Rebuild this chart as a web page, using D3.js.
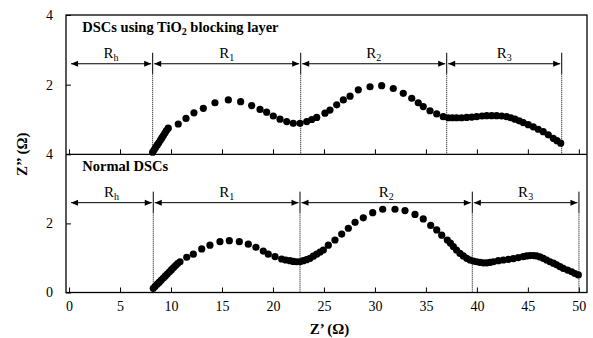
<!DOCTYPE html>
<html>
<head>
<meta charset="utf-8">
<script src="https://cdn.jsdelivr.net/npm/d3@7"></script>
<style>
  body { margin: 0; background: #fff; }
  svg text { font-family: "Liberation Serif", "Times New Roman", serif; fill: #000; }
</style>
</head>
<body>
<svg id="chart" width="593" height="338"></svg>
<script>
// Nyquist data (Z' and Z'' in ohm)
const blockingZre = [8.20, 8.35, 8.50, 8.65, 8.80, 8.95, 9.10, 9.25, 9.40, 9.55, 9.73, 10.71, 11.47, 12.25, 13.17,
  14.31, 15.62, 16.83, 17.91, 18.73, 19.38, 20.03, 20.69, 21.35, 21.99, 22.65, 23.31, 23.80, 24.29, 25.10, 25.59,
  26.25, 26.90, 27.56, 28.37, 29.52, 30.66, 31.80, 32.78, 33.61, 34.25, 34.74, 35.40, 36.06, 36.70, 37.20, 37.60,
  38.02, 38.50, 39.00, 39.50, 39.98, 40.50, 40.96, 41.45, 41.94, 42.43, 42.92, 43.33, 43.74, 44.15, 44.55, 45.04,
  45.53, 46.02, 46.51, 47.00, 47.49, 47.85, 48.22];
const blockingZim = [0.06, 0.13, 0.20, 0.27, 0.33, 0.40, 0.47, 0.54, 0.61, 0.68, 0.75, 0.87, 1.03, 1.19, 1.32,
  1.48, 1.56, 1.51, 1.40, 1.29, 1.21, 1.10, 1.01, 0.94, 0.89, 0.89, 0.94, 1.00, 1.06, 1.18, 1.27,
  1.42, 1.56, 1.67, 1.85, 1.94, 1.97, 1.89, 1.75, 1.61, 1.48, 1.37, 1.25, 1.16, 1.08, 1.05, 1.05,
  1.05, 1.05, 1.06, 1.07, 1.08, 1.10, 1.11, 1.11, 1.11, 1.10, 1.08, 1.05, 1.01, 0.96, 0.91, 0.85,
  0.79, 0.72, 0.65, 0.56, 0.46, 0.39, 0.32];

const normalZre = [8.26, 8.45, 8.65, 8.85, 9.05, 9.25, 9.45, 9.65, 9.85, 10.05, 10.25, 10.45, 10.65, 10.88, 11.54,
  12.19, 13.01, 13.82, 14.80, 15.72, 16.70, 17.58, 18.33, 19.05, 19.54, 20.20, 20.85, 21.25, 21.67, 22.00, 22.33,
  22.65, 22.97, 23.30, 23.63, 23.96, 24.29, 24.62, 24.94, 25.43, 26.08, 26.74, 27.39, 28.05, 28.86, 29.78, 30.76,
  31.97, 32.95, 33.93, 34.74, 35.47, 36.06, 36.55, 37.10, 37.40, 37.69, 38.00, 38.34, 38.67, 39.00, 39.33, 39.65,
  39.98, 40.30, 40.63, 40.96, 41.29, 41.61, 42.10, 42.59, 43.08, 43.57, 44.06, 44.55, 44.88, 45.21, 45.54, 45.86,
  46.19, 46.51, 46.84, 47.17, 47.50, 47.82, 48.15, 48.47, 48.90, 49.30, 49.62, 49.95];
const normalZim = [0.12, 0.18, 0.24, 0.30, 0.36, 0.42, 0.48, 0.54, 0.60, 0.66, 0.72, 0.78, 0.84, 0.89, 1.02,
  1.11, 1.26, 1.37, 1.47, 1.50, 1.47, 1.40, 1.31, 1.20, 1.11, 1.04, 0.97, 0.94, 0.92, 0.90, 0.89,
  0.89, 0.92, 0.95, 0.99, 1.05, 1.11, 1.17, 1.23, 1.37, 1.52, 1.69, 1.86, 2.03, 2.16, 2.31, 2.41,
  2.41, 2.37, 2.26, 2.13, 1.94, 1.81, 1.66, 1.52, 1.43, 1.33, 1.23, 1.13, 1.06, 0.99, 0.94, 0.91,
  0.89, 0.87, 0.86, 0.86, 0.87, 0.89, 0.92, 0.94, 0.96, 0.98, 1.01, 1.04, 1.06, 1.07, 1.07, 1.06,
  1.03, 0.99, 0.94, 0.89, 0.85, 0.80, 0.75, 0.70, 0.65, 0.60, 0.55, 0.51];

// resistance section boundaries (Z')
const blockingBounds = [0, 8.20, 22.72, 37.04, 48.32];
const normalBounds = [0, 8.26, 22.65, 39.55, 50.01];
const sectionSubs = ["h", "1", "2", "3"];

const panelTitles = ["DSCs using TiO", "Normal DSCs"];
const xTicks = [0, 5, 10, 15, 20, 25, 30, 35, 40, 45, 50];
const topYTicks = [2, 4];
const bottomYTicks = [0, 2, 4];
const arrowLevel = 2.6;

const svg = d3.select("#chart");

const mLeft = 66, mRight = 587, mTop = 15, mMid = 154.3, mBottom = 292.5;

const x = d3.scaleLinear().domain([-0.3, 50.8]).range([mLeft, mRight]);
const yTop = d3.scaleLinear().domain([0, 4]).range([mMid, mTop]);
const yBot = d3.scaleLinear().domain([0, 4]).range([mBottom, mMid]);

function styleAxis(g) {
  g.select(".domain").remove();
  g.attr("font-family", null).attr("font-size", null);
  g.selectAll("text").attr("font-size", 14);
  g.selectAll(".tick line").attr("stroke", "#000").attr("stroke-width", 1);
}

// x axes (ticks point inward)
svg.append("g")
  .attr("transform", `translate(0,${mMid})`)
  .call(d3.axisBottom(x).tickValues(xTicks).tickSize(-5).tickFormat(""))
  .call(styleAxis);

svg.append("g")
  .attr("transform", `translate(0,${mBottom})`)
  .call(d3.axisBottom(x).tickValues(xTicks).tickSize(-5).tickPadding(9).tickFormat(d3.format("d")))
  .call(styleAxis);

// y axes
svg.append("g")
  .attr("transform", `translate(${mLeft},0)`)
  .call(d3.axisLeft(yTop).tickValues(topYTicks).tickSize(-5).tickPadding(13).tickFormat(d3.format("d")))
  .call(styleAxis);

svg.append("g")
  .attr("transform", `translate(${mLeft},0)`)
  .call(d3.axisLeft(yBot).tickValues(bottomYTicks).tickSize(-5).tickPadding(13).tickFormat(d3.format("d")))
  .call(styleAxis);

// frame
svg.append("rect")
  .attr("x", mLeft).attr("y", mTop)
  .attr("width", mRight - mLeft).attr("height", mBottom - mTop)
  .attr("fill", "none").attr("stroke", "#000").attr("stroke-width", 1.3);
svg.append("line")
  .attr("x1", mLeft).attr("x2", mRight).attr("y1", mMid).attr("y2", mMid)
  .attr("stroke", "#000").attr("stroke-width", 1.3);

function drawPanel(y, zre, zim, bounds, title, sub) {
  const g = svg.append("g");

  // sections: separators, arrows, labels
  const ay = y(arrowLevel);
  bounds.forEach((b, i) => {
    if (i === 0) return;
    const bx = x(b);
    g.append("line")
      .attr("x1", bx).attr("x2", bx).attr("y1", ay - 11).attr("y2", ay + 10)
      .attr("stroke", "#000").attr("stroke-width", 1);
    g.append("line")
      .attr("x1", bx).attr("x2", bx).attr("y1", ay + 10).attr("y2", y(0))
      .attr("stroke", "#000").attr("stroke-width", 1).attr("stroke-dasharray", "1,1");
  });

  for (let i = 0; i < bounds.length - 1; i++) {
    const x0 = (i === 0 ? x(bounds[i]) + 2 : x(bounds[i]) + 1.5);
    const x1 = x(bounds[i + 1]) - 1.5;
    g.append("line")
      .attr("x1", x0).attr("x2", x1).attr("y1", ay).attr("y2", ay)
      .attr("stroke", "#000").attr("stroke-width", 1);
    g.append("path")
      .attr("d", `M${x0},${ay}l7,-3l0,6z`).attr("fill", "#000");
    g.append("path")
      .attr("d", `M${x1},${ay}l-7,-3l0,6z`).attr("fill", "#000");

    const t = g.append("text")
      .attr("x", (x0 + x1) / 2).attr("y", ay - 6)
      .attr("text-anchor", "middle").attr("font-size", 15);
    t.append("tspan").text("R");
    t.append("tspan").attr("font-size", 10).attr("dy", 3).text(sectionSubs[i]);
  }

  // title
  const tt = g.append("text")
    .attr("x", x(1.3)).attr("y", y(4) + 17)
    .attr("font-size", 14.5).attr("font-weight", "bold");
  tt.append("tspan").text(title);
  if (sub) {
    tt.append("tspan").attr("font-size", 10).attr("dy", 3).text("2");
    tt.append("tspan").attr("dy", -3).text(sub);
  }

  // data points
  g.selectAll("circle")
    .data(zre.map((d, i) => [d, zim[i]]))
    .join("circle")
    .attr("cx", d => x(d[0]))
    .attr("cy", d => y(d[1]))
    .attr("r", 3.6)
    .attr("fill", "#000");
}

drawPanel(yTop, blockingZre, blockingZim, blockingBounds, panelTitles[0], " blocking layer");
drawPanel(yBot, normalZre, normalZim, normalBounds, panelTitles[1], null);

// axis titles
svg.append("text")
  .attr("x", (mLeft + mRight) / 2 + 3).attr("y", 334)
  .attr("text-anchor", "middle").attr("font-size", 15).attr("font-weight", "bold")
  .text("Z’ (Ω)");

svg.append("text")
  .attr("transform", `translate(27,${mMid}) rotate(-90)`)
  .attr("text-anchor", "middle").attr("font-size", 15).attr("font-weight", "bold")
  .text("Z’’ (Ω)");
</script>
</body>
</html>
